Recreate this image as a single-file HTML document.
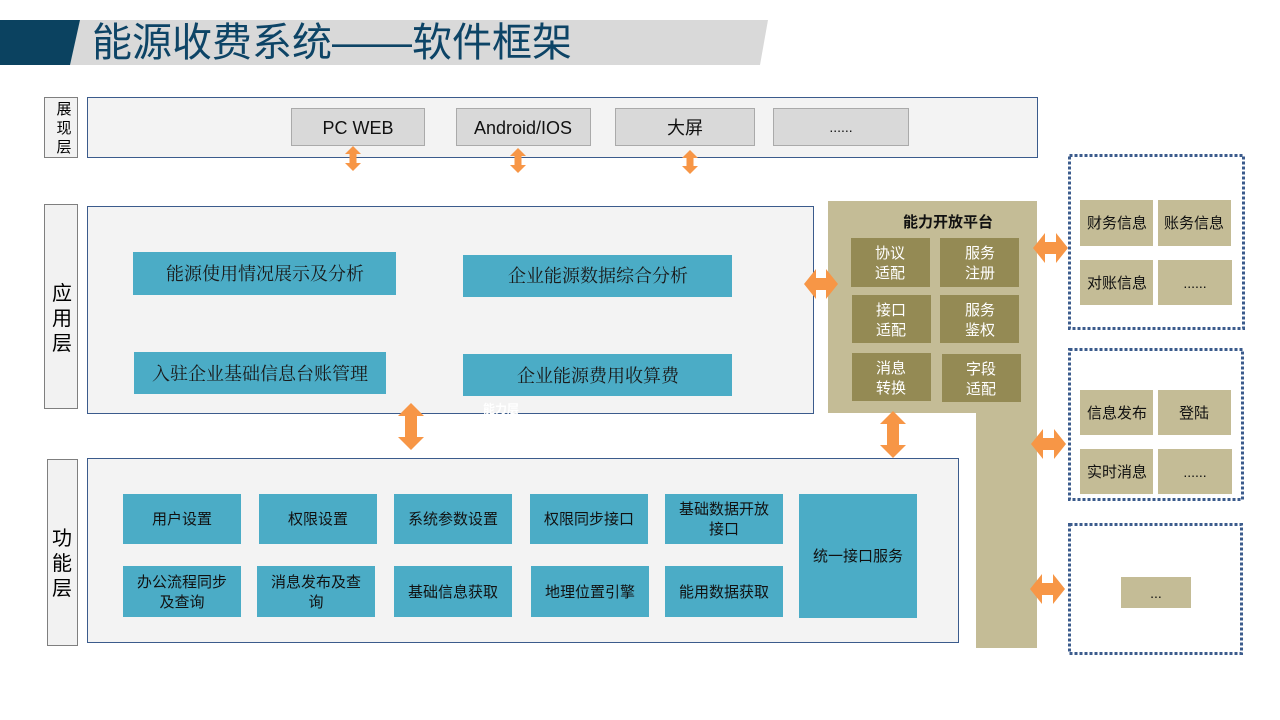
<!DOCTYPE html>
<html><head><meta charset="utf-8"><style>
html,body{margin:0;padding:0;background:#fff;}
svg{display:block;}
text{font-family:"Liberation Sans","Noto Sans CJK SC",sans-serif;}
.s{font-family:"Liberation Serif","Noto Serif CJK SC",serif;}
</style></head><body>
<svg width="1280" height="720" viewBox="0 0 1280 720" xmlns="http://www.w3.org/2000/svg">
<!-- title -->
<polygon points="40,20 768,20 760,65 40,65" fill="#d9d9d9"/>
<polygon points="0,20 80,20 70,65 0,65" fill="#0b4260"/>
<text x="92" y="56" font-size="40" fill="#0d4466">能源收费系统——软件框架</text>

<!-- presentation layer -->
<rect x="44.5" y="97.5" width="33" height="60" fill="#f2f2f2" stroke="#7f7f7f"/>
<text x="64" y="114" font-size="15" text-anchor="middle">展</text>
<text x="64" y="133" font-size="15" text-anchor="middle">现</text>
<text x="64" y="152" font-size="15" text-anchor="middle">层</text>
<rect x="87.5" y="97.5" width="950" height="60" fill="#f3f3f3" stroke="#3b5b8c"/>
<g fill="#d9d9d9" stroke="#aaaaaa">
<rect x="291.5" y="108.5" width="133" height="37"/>
<rect x="456.5" y="108.5" width="134" height="37"/>
<rect x="615.5" y="108.5" width="139" height="37"/>
<rect x="773.5" y="108.5" width="135" height="37"/>
</g>
<g font-size="18" text-anchor="middle" fill="#111">
<text x="358" y="134">PC WEB</text>
<text x="523" y="134">Android/IOS</text>
<text x="685" y="134">大屏</text>
<text x="841" y="132" font-size="14">......</text>
</g>

<!-- app layer -->
<rect x="44.5" y="204.5" width="33" height="204" fill="#f2f2f2" stroke="#7f7f7f"/>
<text x="62" y="300" font-size="20" text-anchor="middle">应</text>
<text x="62" y="325" font-size="20" text-anchor="middle">用</text>
<text x="62" y="350" font-size="20" text-anchor="middle">层</text>
<rect x="87.5" y="206.5" width="726" height="207" fill="#f3f3f3" stroke="#3b5b8c"/>
<g fill="#4bacc6">
<rect x="133" y="252" width="263" height="43"/>
<rect x="463" y="255" width="269" height="42"/>
<rect x="134" y="352" width="252" height="42"/>
<rect x="463" y="354" width="269" height="42"/>
</g>
<g class="s" font-size="18" text-anchor="middle" fill="#1a1a1a">
<text class="s" x="265" y="280">能源使用情况展示及分析</text>
<text class="s" x="598" y="282">企业能源数据综合分析</text>
<text class="s" x="260" y="380">入驻企业基础信息台账管理</text>
<text class="s" x="598" y="382">企业能源费用收算费</text>
</g>
<text x="501" y="413" font-size="12" font-weight="bold" fill="#fff" text-anchor="middle">能力层</text>

<!-- function layer -->
<rect x="47.5" y="459.5" width="30" height="186" fill="#f2f2f2" stroke="#7f7f7f"/>
<text x="62" y="545" font-size="20" text-anchor="middle">功</text>
<text x="62" y="570" font-size="20" text-anchor="middle">能</text>
<text x="62" y="595" font-size="20" text-anchor="middle">层</text>
<rect x="87.5" y="458.5" width="871" height="184" fill="#f3f3f3" stroke="#3b5b8c"/>
<g fill="#4bacc6">
<rect x="123" y="494" width="118" height="50"/>
<rect x="259" y="494" width="118" height="50"/>
<rect x="394" y="494" width="118" height="50"/>
<rect x="530" y="494" width="118" height="50"/>
<rect x="665" y="494" width="118" height="50"/>
<rect x="123" y="566" width="118" height="51"/>
<rect x="257" y="566" width="118" height="51"/>
<rect x="394" y="566" width="118" height="51"/>
<rect x="531" y="566" width="118" height="51"/>
<rect x="665" y="566" width="118" height="51"/>
<rect x="799" y="494" width="118" height="124"/>
</g>
<g font-size="15" text-anchor="middle" fill="#111">
<text x="182" y="524">用户设置</text>
<text x="318" y="524">权限设置</text>
<text x="453" y="524">系统参数设置</text>
<text x="589" y="524">权限同步接口</text>
<text x="724" y="514">基础数据开放</text>
<text x="724" y="534">接口</text>
<text x="182" y="587">办公流程同步</text>
<text x="182" y="607">及查询</text>
<text x="316" y="587">消息发布及查</text>
<text x="316" y="607">询</text>
<text x="453" y="597">基础信息获取</text>
<text x="590" y="597">地理位置引擎</text>
<text x="724" y="597">能用数据获取</text>
<text x="858" y="561">统一接口服务</text>
</g>

<!-- platform -->
<polygon points="828,201 1037,201 1037,648 976,648 976,413 828,413" fill="#c4bc96"/>
<text x="948" y="227" font-size="15" font-weight="bold" text-anchor="middle" fill="#111">能力开放平台</text>
<g fill="#948a54">
<rect x="851" y="238" width="79" height="49"/>
<rect x="940" y="238" width="79" height="49"/>
<rect x="852" y="295" width="79" height="48"/>
<rect x="940" y="295" width="79" height="48"/>
<rect x="852" y="353" width="79" height="48"/>
<rect x="942" y="354" width="79" height="48"/>
</g>
<g font-size="15" text-anchor="middle" fill="#fff">
<text x="890" y="258">协议</text><text x="890" y="278">适配</text>
<text x="980" y="258">服务</text><text x="980" y="278">注册</text>
<text x="891" y="315">接口</text><text x="891" y="335">适配</text>
<text x="980" y="315">服务</text><text x="980" y="335">鉴权</text>
<text x="891" y="373">消息</text><text x="891" y="393">转换</text>
<text x="981" y="374">字段</text><text x="981" y="394">适配</text>
</g>

<!-- right dashed boxes -->
<g fill="none" stroke="#3b5b8c" stroke-width="3" stroke-dasharray="3,2">
<rect x="1069.5" y="155.5" width="174" height="173"/>
<rect x="1069.5" y="349.5" width="173" height="150"/>
<rect x="1069.5" y="524.5" width="172" height="129"/>
</g>
<g fill="#c4bc96">
<rect x="1080" y="200" width="73" height="46"/>
<rect x="1158" y="200" width="73" height="46"/>
<rect x="1080" y="260" width="73" height="45"/>
<rect x="1158" y="260" width="74" height="45"/>
<rect x="1080" y="390" width="73" height="45"/>
<rect x="1158" y="390" width="73" height="45"/>
<rect x="1080" y="449" width="73" height="45"/>
<rect x="1158" y="449" width="74" height="45"/>
<rect x="1121" y="577" width="70" height="31"/>
</g>
<g font-size="15" text-anchor="middle" fill="#111">
<text x="1117" y="228">财务信息</text>
<text x="1194" y="228">账务信息</text>
<text x="1117" y="288">对账信息</text>
<text x="1195" y="288" font-size="14">......</text>
<text x="1117" y="418">信息发布</text>
<text x="1194" y="418">登陆</text>
<text x="1117" y="477">实时消息</text>
<text x="1195" y="477" font-size="14">......</text>
<text x="1156" y="598" font-size="14">...</text>
</g>

<!-- arrows -->
<g fill="#f79646">
<polygon points="353,146 361,154 356.5,154 356.5,163 361,163 353,171 345,163 349.5,163 349.5,154 345,154"/>
<polygon points="518,148 526,156 521.5,156 521.5,165 526,165 518,173 510,165 514.5,165 514.5,156 510,156"/>
<polygon points="690,150 698,158 693.5,158 693.5,166 698,166 690,174 682,166 686.5,166 686.5,158 682,158"/>
<polygon points="411,403 424,416 417,416 417,437 424,437 411,450 398,437 405,437 405,416 398,416"/>
<polygon points="893,411 906,424 899,424 899,445 906,445 893,458 880,445 887,445 887,424 880,424"/>
<polygon points="804,284 816,269 816,278 826,278 826,269 838,284 826,299 826,290 816,290 816,299"/>
<polygon points="1033,248 1045,233 1045,242 1056,242 1056,233 1068,248 1056,263 1056,254 1045,254 1045,263"/>
<polygon points="1031,444 1043,429 1043,438 1054,438 1054,429 1066,444 1054,459 1054,450 1043,450 1043,459"/>
<polygon points="1030,589 1042,574 1042,583 1053,583 1053,574 1065,589 1053,604 1053,595 1042,595 1042,604"/>
</g>
</svg>
</body></html>
